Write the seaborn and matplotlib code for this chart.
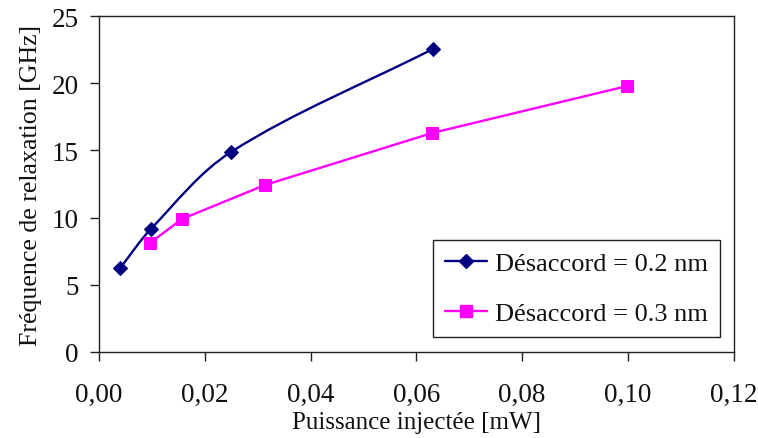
import matplotlib
matplotlib.use("Agg")
import matplotlib.pyplot as plt
from matplotlib.ticker import FuncFormatter
from matplotlib.path import Path
from matplotlib.patches import PathPatch
from matplotlib.lines import Line2D
import seaborn as sns
import pandas as pd
import numpy as np

# Data
x_02 = [0.004, 0.0098, 0.0249, 0.0631]
y_02 = [6.25, 9.15, 14.87, 22.55]
x_03 = [0.0096, 0.0157, 0.0314, 0.063, 0.0999]
y_03 = [8.1, 9.9, 12.43, 16.3, 19.8]
labels = ["Désaccord = 0.2 nm", "Désaccord = 0.3 nm"]
x_ticks = [0.00, 0.02, 0.04, 0.06, 0.08, 0.10, 0.12]
y_ticks = [0, 5, 10, 15, 20, 25]
xlabel = "Puissance injectée [mW]"
ylabel = "Fréquence de relaxation [GHz]"

NAVY = "#000080"
MAGENTA = "#FF00FF"

sns.set_style("ticks")
plt.rcParams['font.family'] = ['Liberation Serif', 'DejaVu Serif']
plt.rcParams['axes.linewidth'] = 1.0

fig = plt.figure(figsize=(7.58, 4.39), dpi=100)
ax = fig.add_axes([0.1306, 0.196, 0.8374, 0.765])
ax.set_xlim(0, 0.12)
ax.set_ylim(0, 25)

df1 = pd.DataFrame({"x": x_02, "y": y_02})
df2 = pd.DataFrame({"x": x_03, "y": y_03})

# Series 0.2 nm: markers via seaborn, smoothed line as Bezier path through the points
sns.lineplot(data=df1, x="x", y="y", ax=ax, color=NAVY, marker="D",
             markersize=7.5, markeredgecolor=NAVY, linewidth=0,
             estimator=None, zorder=3)
pts = ax.transData.transform(np.column_stack([x_02, y_02]))
n = len(pts)
tang = []
for i in range(n):
    a = pts[max(i - 1, 0)]
    b = pts[min(i + 1, n - 1)]
    d = b - a
    tang.append(d / np.linalg.norm(d))
verts = [pts[0]]
codes = [Path.MOVETO]
for i in range(n - 1):
    L = np.linalg.norm(pts[i + 1] - pts[i]) / 3.0
    c1 = pts[i] + tang[i] * L
    c2 = pts[i + 1] - tang[i + 1] * L
    verts += [c1, c2, pts[i + 1]]
    codes += [Path.CURVE4] * 3
verts = ax.transData.inverted().transform(np.array(verts))
ax.add_patch(PathPatch(Path(verts, codes), facecolor='none', edgecolor=NAVY,
                       linewidth=1.7, zorder=2))

# Series 0.3 nm: straight segments
sns.lineplot(data=df2, x="x", y="y", ax=ax, color=MAGENTA, marker="s",
             markersize=9, markeredgecolor=MAGENTA, linewidth=1.7,
             estimator=None, zorder=3)

ax.set_xlim(0, 0.12)
ax.set_ylim(0, 25)
ax.set_xticks(x_ticks)
ax.set_yticks(y_ticks)
ax.xaxis.set_major_formatter(FuncFormatter(lambda v, p: f"{v:.2f}".replace('.', ',')))
ax.tick_params(axis='both', direction='out', length=6.5, width=1.0, colors='#222222',
               labelsize=19.5, labelcolor='#111111')
ax.tick_params(axis='x', pad=15)
ax.tick_params(axis='y', pad=8)
for s in ax.spines.values():
    s.set_visible(True)
    s.set_color('#222222')
ax.set_xlabel(xlabel, fontsize=18, color='#111111', labelpad=3)
ax.set_ylabel(ylabel, fontsize=18.6, color='#111111', labelpad=7)

handles = [
    Line2D([], [], color=NAVY, marker="D", markersize=7, linewidth=1.7),
    Line2D([], [], color=MAGENTA, marker="s", markersize=8.5, linewidth=1.7),
]
leg = ax.legend(handles, labels, loc='lower right', bbox_to_anchor=(0.978, 0.045),
                borderaxespad=0, fontsize=19,
                frameon=True, fancybox=False, edgecolor='#222222', framealpha=1,
                handlelength=1.6, handletextpad=0.3, labelspacing=1.0,
                borderpad=0.45)
leg.get_frame().set_linewidth(1.0)
for t in leg.get_texts():
    t.set_color('#111111')

fig.savefig("out.png", dpi=100)
